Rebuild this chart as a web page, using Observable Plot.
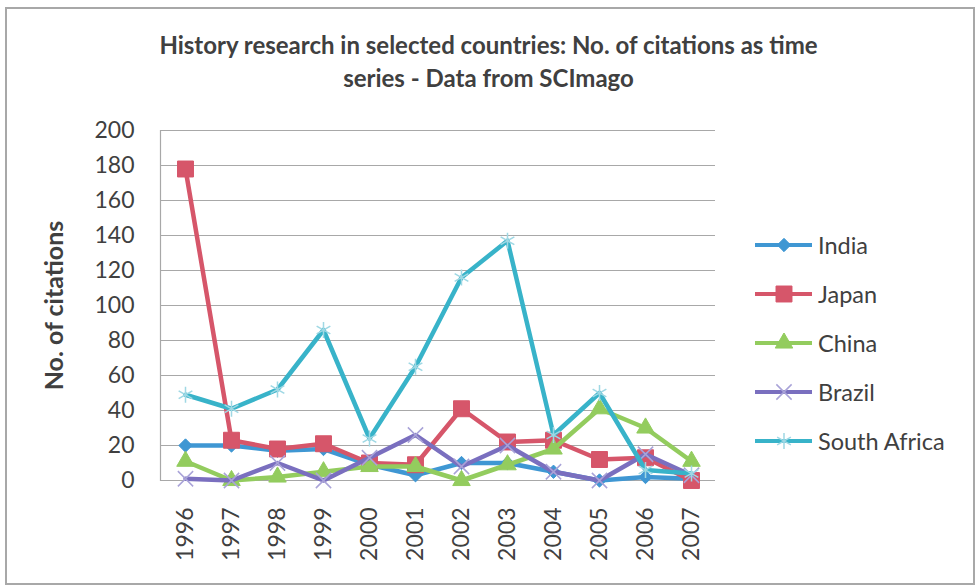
<!DOCTYPE html>
<html>
<head>
<meta charset="utf-8">
<script src="https://cdn.jsdelivr.net/npm/d3@7"></script>
<script src="https://cdn.jsdelivr.net/npm/@observablehq/plot@0.6"></script>
<style>
  html, body { margin: 0; padding: 0; background: #fff; }
  #wrap { position: relative; width: 977px; height: 586px; overflow: hidden; font-family: Lato, "Open Sans", sans-serif; color: #404040; }
  #border { position: absolute; left: 5px; top: 7px; width: 966px; height: 574px; border: 2px solid #a8a8a8; box-sizing: content-box; }
  #title { position: absolute; left: 0; top: 28px; width: 977px; text-align: center; font-weight: bold; font-size: 24px; line-height: 33px; color: #404040; }
  #chart { position: absolute; left: 0; top: 0; }
  #legend { position: absolute; left: 755px; top: 220px; }
  .item { display: flex; align-items: center; height: 49.2px; font-size: 23.5px; color: #404040; }
  .item svg { margin-right: 5px; }
  g[aria-label="y-axis label"] text { font-weight: bold; font-size: 25px; }
</style>
</head>
<body>
<div id="wrap">
  <div id="border"></div>
  <div id="chart"></div>
  <div id="title">History research in selected countries: No. of citations as time<br>series - Data from SCImago</div>
  <div id="legend"></div>
</div>
<script>
const years = ["1996","1997","1998","1999","2000","2001","2002","2003","2004","2005","2006","2007"];
const countries = ["India","Japan","China","Brazil","South Africa"];
const india       = [20, 20, 17, 18, 9, 3, 10, 10, 5, 0, 2, 1];
const japan       = [178, 23, 18, 21, 10, 9, 41, 22, 23, 12, 13, 0];
const china       = [11, 0, 2, 5, 8, 8, 0, 9, 18, 41, 30, 11];
const brazil      = [1, 0, 10, 0, 13, 26, 8, 20, 5, 0, 15, 3];
const southAfrica = [49, 41, 52, 86, 24, 65, 116, 137, 26, 50, 6, 4];
const yTicks = [0, 20, 40, 60, 80, 100, 120, 140, 160, 180, 200];

const seriesValues = [india, japan, china, brazil, southAfrica];
const lineColors   = ["#3f97d3", "#d6566a", "#93cc5e", "#7a6fbf", "#38b3c9"];
const markerStyle = [
  {symbol: "diamond2", r: 6,   fill: "#3f97d3", stroke: "#3f97d3", sw: 1},
  {symbol: "square",   r: 9,   fill: "#d6566a", stroke: "#d6566a", sw: 1},
  {symbol: "triangle", r: 6.5, fill: "#93cc5e", stroke: "#93cc5e", sw: 1},
  {symbol: "times",    r: 7,   fill: "none",    stroke: "#a9a3d8", sw: 1.5},
  {symbol: "asterisk", r: 7.5, fill: "none",    stroke: "#9fd8e4", sw: 1.5}
];

const data = countries.flatMap((c, i) => years.map((y, j) => ({country: c, year: y, value: seriesValues[i][j]})));

const seriesMarks = countries.flatMap((c, i) => {
  const d = data.filter(e => e.country === c);
  const m = markerStyle[i];
  return [
    Plot.line(d, {x: "year", y: "value", stroke: lineColors[i], strokeWidth: 4.5, strokeLinejoin: "round"}),
    Plot.dot(d, {x: "year", y: "value", symbol: m.symbol, r: m.r, fill: m.fill, stroke: m.stroke, strokeWidth: m.sw})
  ];
});

const chart = Plot.plot({
  width: 977,
  height: 586,
  marginLeft: 160,
  marginRight: 262,
  marginTop: 130,
  marginBottom: 106,
  style: {fontFamily: "Lato, 'Open Sans', sans-serif", fontSize: "23px", color: "#404040", background: "transparent", overflow: "visible"},
  x: {type: "point", domain: years, padding: 0.5},
  y: {domain: [0, 200]},
  marks: [
    Plot.gridY(yTicks, {stroke: "#a8a8a8", strokeOpacity: 1, strokeWidth: 1.2}),
    Plot.frame({anchor: "left", stroke: "#a8a8a8", strokeWidth: 1.2}),
    Plot.axisY(yTicks, {tickSize: 0, tickPadding: 26, tickFormat: d => d, label: "No. of citations", labelAnchor: "center", labelArrow: "none", labelOffset: 115}),
    Plot.axisX({tickRotate: -90, tickSize: 0, tickPadding: 27, label: null}),
    ...seriesMarks
  ]
});
document.getElementById("chart").appendChild(chart);

// legend
const legend = d3.select("#legend");
countries.forEach((c, i) => {
  const m = markerStyle[i];
  const item = legend.append("div").attr("class", "item");
  const svg = item.append("svg").attr("width", 58).attr("height", 20);
  svg.append("line").attr("x1", 0).attr("x2", 57).attr("y1", 10).attr("y2", 10)
    .attr("stroke", lineColors[i]).attr("stroke-width", 4);
  const symMap = {diamond2: d3.symbolDiamond2, square: d3.symbolSquare, triangle: d3.symbolTriangle, times: d3.symbolTimes, asterisk: d3.symbolAsterisk};
  svg.append("path").attr("transform", "translate(29,10)")
    .attr("d", d3.symbol(symMap[m.symbol], Math.PI * m.r * m.r)())
    .attr("fill", m.fill).attr("stroke", m.stroke).attr("stroke-width", m.sw);
  item.append("span").text(c);
});
</script>
</body>
</html>
